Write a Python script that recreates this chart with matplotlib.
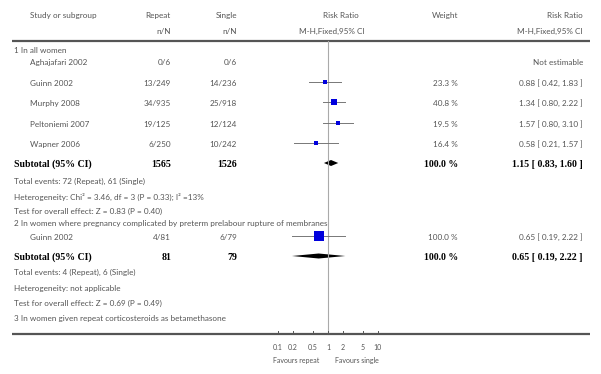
import matplotlib
matplotlib.use("Agg")
import matplotlib.pyplot as plt
import numpy as np

# ---- data ----
g1_studies = ["Aghajafari 2002", "Guinn 2002", "Murphy 2008", "Peltoniemi 2007", "Wapner 2006"]
g1_repeat = ["0/6", "13/249", "34/935", "19/125", "6/250"]
g1_single = ["0/6", "14/236", "25/918", "12/124", "10/242"]
g1_rr = [np.nan, 0.88, 1.34, 1.57, 0.58]
g1_lo = [np.nan, 0.42, 0.80, 0.80, 0.21]
g1_hi = [np.nan, 1.83, 2.22, 3.10, 1.57]
g1_weight = [np.nan, 23.3, 40.8, 19.5, 16.4]
g1_sub = (1.15, 0.83, 1.60)
g1_totals = ("1565", "1526")

g2_studies = ["Guinn 2002"]
g2_repeat = ["4/81"]
g2_single = ["6/79"]
g2_rr = [0.65]
g2_lo = [0.19]
g2_hi = [2.22]
g2_weight = [100.0]
g2_sub = (0.65, 0.19, 2.22)
g2_totals = ("81", "79")

ticks = [0.1, 0.2, 0.5, 1, 2, 5, 10]
tick_labels = ["0.1", "0.2", "0.5", "1", "2", "5", "10"]

W, H = 601, 374
fig = plt.figure(figsize=(W / 100, H / 100), dpi=100)
ax = fig.add_axes([0, 0, 1, 1])
ax.set_xlim(0, W)
ax.set_ylim(H, 0)
ax.axis("off")

# forest axes: 0.01 -> x=228, 100 -> x=428
fx0, fx1 = 228, 428
fax = fig.add_axes([fx0 / W, 0, (fx1 - fx0) / W, 1])
fax.set_xscale("log")
fax.set_xlim(0.01, 100)
fax.set_ylim(H, 0)
fax.axis("off")

FONT = "Lato"
SERIF = "Liberation Serif"
fs = 5.85
bfs = 7.1
col = "#555555"
txt = dict(fontsize=fs, family=FONT, color=col, va="center")
btxt = dict(fontsize=bfs, family=SERIF, color="black", va="center", fontweight="bold")

# header
ax.text(30, 15, "Study or subgroup", ha="left", **txt)
ax.text(171, 15, "Repeat", ha="right", **txt)
ax.text(171, 31, "n/N", ha="right", **txt)
ax.text(237, 15, "Single", ha="right", **txt)
ax.text(237, 31, "n/N", ha="right", **txt)
ax.text(341, 15, "Risk Ratio", ha="center", **txt)
ax.text(332, 31, "M-H,Fixed,95% CI", ha="center", **txt)
ax.text(458, 15, "Weight", ha="right", **txt)
ax.text(583, 15, "Risk Ratio", ha="right", **txt)
ax.text(583, 31, "M-H,Fixed,95% CI", ha="right", **txt)
ax.plot([12, 590], [41, 41], color="#555555", lw=1.6, solid_capstyle="butt")
ax.plot([12, 590], [334, 334], color="#555555", lw=1.6, solid_capstyle="butt")

# reference line
fax.plot([1, 1], [41, 334], color="#aaaaaa", lw=0.8)


def study_rows(ys, names, rep, sing, rr, lo, hi, wt):
    for y, n, r, s, e, l, h, w in zip(ys, names, rep, sing, rr, lo, hi, wt):
        ax.text(30, y, n, ha="left", **txt)
        ax.text(171, y, r, ha="right", **txt)
        ax.text(237, y, s, ha="right", **txt)
        if np.isnan(e):
            ax.text(583, y, "Not estimable", ha="right", **txt)
            continue
        ax.text(458, y, f"{w:.1f} %", ha="right", **txt)
        ax.text(583, y, f"{e:.2f} [ {l:.2f}, {h:.2f} ]", ha="right", **txt)
        fax.plot([l, h], [y - 1, y - 1], color="#777777", lw=0.7)
        side_px = np.sqrt(w)
        fax.plot([e], [y - 1], marker="s", color="#0000dd", markersize=side_px * 0.72,
                 markeredgewidth=0)


def subtotal(y, totals, sub, hh):
    ax.text(14, y, "Subtotal (95% CI)", ha="left", **btxt)
    ax.text(171, y, totals[0], ha="right", **btxt)
    ax.text(237, y, totals[1], ha="right", **btxt)
    ax.text(458, y, "100.0 %", ha="right", **btxt)
    e, l, h = sub
    ax.text(583, y, f"{e:.2f} [ {l:.2f}, {h:.2f} ]", ha="right", **btxt)
    fax.fill([l, e, h, e], [y - 1, y - 1 - hh, y - 1, y - 1 + hh], color="black", lw=0)


# group 1
ax.text(14, 50, "1 In all women", ha="left", **txt)
study_rows([62, 83, 103, 124, 144], g1_studies, g1_repeat, g1_single, g1_rr, g1_lo, g1_hi, g1_weight)
subtotal(164, g1_totals, g1_sub, 3)
ax.text(14, 181, "Total events: 72 (Repeat), 61 (Single)", ha="left", **txt)
ax.text(14, 197, "Heterogeneity: Chi\u00b2 = 3.46, df = 3 (P = 0.33); I\u00b2 =13%", ha="left", **txt)
ax.text(14, 211, "Test for overall effect: Z = 0.83 (P = 0.40)", ha="left", **txt)

# group 2
ax.text(14, 223, "2 In women where pregnancy complicated by preterm prelabour rupture of membranes",
        ha="left", **txt)
study_rows([237], g2_studies, g2_repeat, g2_single, g2_rr, g2_lo, g2_hi, g2_weight)
subtotal(257, g2_totals, g2_sub, 2.5)
ax.text(14, 272, "Total events: 4 (Repeat), 6 (Single)", ha="left", **txt)
ax.text(14, 288, "Heterogeneity: not applicable", ha="left", **txt)
ax.text(14, 303, "Test for overall effect: Z = 0.69 (P = 0.49)", ha="left", **txt)
ax.text(14, 318, "3 In women given repeat corticosteroids as betamethasone", ha="left", **txt)

# axis ticks
for t, lab in zip(ticks, tick_labels):
    fax.plot([t, t], [331, 334], color="#555555", lw=0.7)
    fax.text(t, 347, lab, ha="center", va="center", fontsize=5.0, family=FONT, color=col)
ax.text(319, 360, "Favours repeat", ha="right", va="center", fontsize=5.0, family=FONT, color=col)
ax.text(335, 360, "Favours single", ha="left", va="center", fontsize=5.0, family=FONT, color=col)

fig.savefig("out.png", dpi=100)
